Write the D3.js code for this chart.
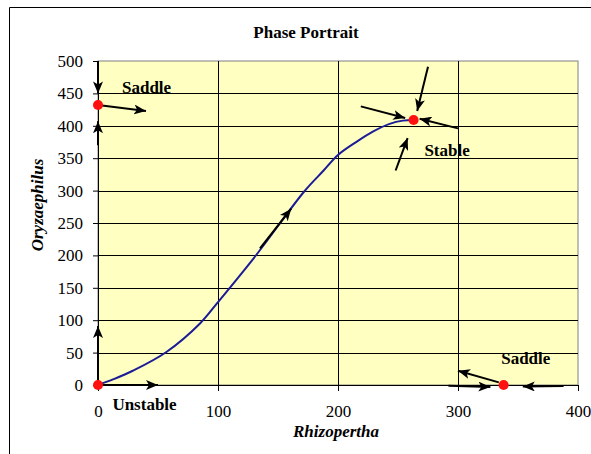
<!DOCTYPE html>
<html><head><meta charset="utf-8">
<script src="https://cdn.jsdelivr.net/npm/d3@7"></script>
<style>
html,body{margin:0;padding:0;background:#fff;}
svg{display:block;}
text{font-family:"Liberation Serif","Times New Roman",serif;fill:#000;}
</style></head>
<body>
<svg id="chart" width="591" height="454"></svg>
<script>
// ---- data ----
const trajX = [0, 13, 29, 57, 85, 100, 132, 172, 188, 200, 216, 229, 243, 254, 263];
const trajY = [0, 9, 22, 51, 95, 128, 201, 299, 331, 355, 376, 391, 403, 408, 409];
const eqX = [0, 0, 263, 338];
const eqY = [0, 432, 409, 0];
const eqLabels = ["Unstable", "Saddle", "Stable", "Saddle"];
const labelX = [12, 20, 272, 336];
const labelY = [-39, 450, 353, 32];
// arrows: start (x1,y1) -> tip (x2,y2)
const arrX1 = [0, 0, 0, 275, 219, 300, 248, 135, 0, 0, 334, 292, 388];
const arrY1 = [500, 370, 432, 491, 430, 396, 331, 211, 0, 0, 4, -1, -1.5];
const arrX2 = [0, 0, 40, 266, 256, 268, 258, 161, 0, 50, 300, 327, 354];
const arrY2 = [450, 407, 423, 423, 412, 411, 381, 272, 91, 0, 22, -3, -2.5];
const xTicks = [0, 100, 200, 300, 400];
const yTicks = [0, 50, 100, 150, 200, 250, 300, 350, 400, 450, 500];
const title = "Phase Portrait";
const xTitle = "Rhizopertha";
const yTitle = "Oryzaephilus";

// ---- layout ----
const svg = d3.select("#chart");
const L = 98, R = 578, T = 61, B = 385;
const x = d3.scaleLinear().domain([0, 400]).range([L, R]);
const y = d3.scaleLinear().domain([0, 500]).range([B, T]);

// chart area frame (cut off at right/bottom)
svg.append("path").attr("d", `M9.5,460 L9.5,7.5 L600,7.5`)
  .attr("fill", "none").attr("stroke", "#000").attr("stroke-width", 1);

// plot background
svg.append("rect").attr("x", L).attr("y", T).attr("width", R - L).attr("height", B - T)
  .attr("fill", "#FFFFC2").attr("stroke", "#808080").attr("stroke-width", 1);

// gridlines
svg.append("g").selectAll("line").data(yTicks.filter(d => d > 0 && d < 500)).join("line")
  .attr("x1", L).attr("x2", R).attr("y1", d => Math.round(y(d)) + 0.5).attr("y2", d => Math.round(y(d)) + 0.5)
  .attr("stroke", "#000").attr("stroke-width", 1);
svg.append("g").selectAll("line").data(xTicks.filter(d => d > 0 && d < 400)).join("line")
  .attr("y1", T).attr("y2", B).attr("x1", d => Math.round(x(d)) + 0.5).attr("x2", d => Math.round(x(d)) + 0.5)
  .attr("stroke", "#000").attr("stroke-width", 1);

// axes
const xAxis = d3.axisBottom(x).tickValues(xTicks).tickSize(6).tickPadding(14).tickSizeOuter(0);
const yAxis = d3.axisLeft(y).tickValues(yTicks).tickSize(5).tickPadding(10).tickSizeOuter(0);
const gx = svg.append("g").attr("transform", `translate(0,${B})`).call(xAxis);
const gy = svg.append("g").attr("transform", `translate(${L},0)`).call(yAxis);
[gx, gy].forEach(g => {
  g.select(".domain").attr("stroke", "#000").attr("stroke-width", 1);
  g.selectAll(".tick line").attr("stroke", "#000");
  g.selectAll(".tick text").attr("font-family", "Liberation Serif").attr("font-size", 17).attr("fill", "#000");
});

// trajectory
const pts = trajX.map((d, i) => [d, trajY[i]]);
svg.append("path").datum(pts)
  .attr("d", d3.line().x(d => x(d[0])).y(d => y(d[1])).curve(d3.curveCatmullRom.alpha(0.5)))
  .attr("fill", "none").attr("stroke", "#1c1c96").attr("stroke-width", 2);

// arrow marker
svg.append("defs").append("marker")
  .attr("id", "ah").attr("markerUnits", "userSpaceOnUse")
  .attr("markerWidth", 13).attr("markerHeight", 10)
  .attr("refX", 12).attr("refY", 5).attr("orient", "auto")
  .append("path").attr("d", "M0,0 L12,5 L0,10 L3,5 Z").attr("fill", "#000");

svg.append("g").selectAll("line").data(arrX1.map((d, i) => i)).join("line")
  .attr("x1", i => x(arrX1[i])).attr("y1", i => y(arrY1[i]))
  .attr("x2", i => x(arrX2[i])).attr("y2", i => y(arrY2[i]))
  .attr("stroke", "#000").attr("stroke-width", 2)
  .attr("marker-end", "url(#ah)");

// equilibria
svg.append("g").selectAll("circle").data(eqX.map((d, i) => i)).join("circle")
  .attr("cx", i => x(eqX[i])).attr("cy", i => y(eqY[i])).attr("r", 5)
  .attr("fill", "#ff1010");

// labels
svg.append("g").selectAll("text").data(eqLabels.map((d, i) => i)).join("text")
  .attr("x", i => x(labelX[i])).attr("y", i => y(labelY[i]))
  .attr("font-size", 17).attr("font-weight", "bold")
  .text(i => eqLabels[i]);

// titles
svg.append("text").attr("x", 306).attr("y", 38).attr("text-anchor", "middle")
  .attr("font-size", 17).attr("font-weight", "bold").text(title);
svg.append("text").attr("x", 336).attr("y", 437).attr("text-anchor", "middle")
  .attr("font-size", 17).attr("font-weight", "bold").attr("font-style", "italic").text(xTitle);
svg.append("text").attr("transform", "translate(43,205) rotate(-90)").attr("text-anchor", "middle")
  .attr("font-size", 17).attr("font-weight", "bold").attr("font-style", "italic").text(yTitle);
</script>
</body></html>
